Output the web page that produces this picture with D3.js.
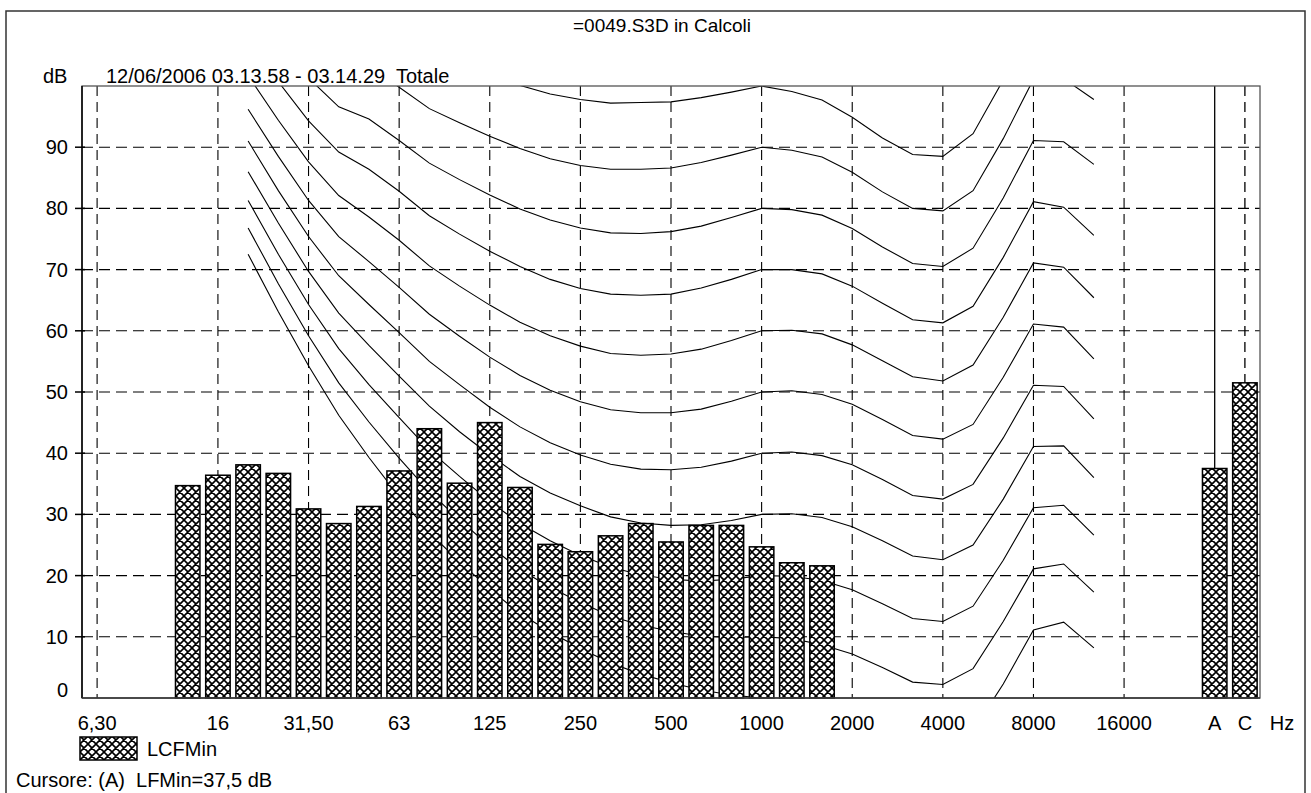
<!DOCTYPE html>
<html><head><meta charset="utf-8">
<script src="https://cdn.jsdelivr.net/npm/d3@7"></script>
<style>
body{margin:0;background:#fff}
svg{display:block}
text{font-family:"Liberation Sans",Arial,Helvetica,sans-serif;fill:#000}
</style>
</head><body>
<svg id="c" width="1311" height="793"></svg>
<script>
// ---------- data ----------
const bands = ["6.3","8","10","12.5","16","20","25","31.5","40","50","63","80","100","125","160","200","250","315","400","500","630","800","1000","1250","1600","2000","2500","3150","4000","5000","6300","8000","10000","12500","16000","20000","25000","A","C"];
const tickBands = ["6.3","16","31.5","63","125","250","500","1000","2000","4000","8000","16000","A","C"];
const tickLabels = ["6,30","16","31,50","63","125","250","500","1000","2000","4000","8000","16000","A","C"];
const gridBands = ["6.3","16","31.5","63","125","250","500","1000","2000","4000","8000","16000"];
const yTickValues = [10,20,30,40,50,60,70,80,90];

const barBands = ["12.5","16","20","25","31.5","40","50","63","80","100","125","160","200","250","315","400","500","630","800","1000","1250","1600","A","C"];
const barValues = [34.7,36.4,38.1,36.7,30.9,28.5,31.3,37.1,44.0,35.1,45.0,34.4,25.1,23.9,26.5,28.5,25.5,28.2,28.2,24.7,22.1,21.6,37.5,51.5];

const contourBands = ["20","25","31.5","40","50","63","80","100","125","160","200","250","315","400","500","630","800","1000","1250","1600","2000","2500","3150","4000","5000","6300","8000","10000","12500"];
const phon0   = [72.5,63.1,54.3,46.2,39.3,32.9,27.0,22.3,17.8,13.8,10.8,8.1,5.7,3.9,2.5,1.3,0.5,0.0,-0.7,-1.9,-3.5,-5.7,-8.1,-8.3,-5.4,2.3,11.1,12.4,8.2];
const phon10  = [76.8,67.7,59.2,51.5,45.1,39.2,33.7,29.1,24.8,21.0,18.1,15.6,13.4,11.9,10.9,10.1,9.9,10.0,9.7,8.7,7.2,5.0,2.6,2.2,4.8,12.5,21.1,21.9,17.3];
const phon20  = [81.3,72.5,64.3,57.1,51.2,45.8,40.5,36.2,32.1,28.5,25.7,23.3,21.4,20.1,19.4,19.1,19.4,20.0,19.9,19.2,17.7,15.4,13.0,12.5,15.0,22.5,31.1,31.5,26.6];
const phon30  = [86.0,77.6,69.7,62.9,57.6,52.6,47.7,43.5,39.7,36.2,33.5,31.4,29.6,28.6,28.2,28.3,29.0,30.0,30.1,29.5,28.0,25.7,23.2,22.6,25.0,32.5,41.1,41.2,36.0];
const phon40  = [91.0,82.9,75.4,69.0,64.3,59.7,55.0,51.2,47.5,44.3,41.7,39.7,38.2,37.4,37.3,37.7,38.7,40.0,40.2,39.6,38.1,35.7,33.1,32.5,34.9,42.5,51.1,50.9,45.6];
const phon50  = [96.2,88.5,81.3,75.4,71.3,67.1,62.7,59.1,55.7,52.7,50.3,48.4,47.1,46.6,46.6,47.2,48.5,50.0,50.2,49.6,48.0,45.5,42.9,42.3,44.7,52.4,61.1,60.6,55.4];
const phon60  = [101.7,94.4,87.6,82.1,78.6,74.8,70.6,67.3,64.2,61.4,59.2,57.5,56.3,56.0,56.2,57.0,58.4,60.0,60.1,59.5,57.7,55.1,52.5,51.8,54.4,62.2,71.1,70.4,65.4];
const phon70  = [107.6,100.7,94.3,89.2,86.4,82.8,78.8,75.8,73.0,70.5,68.4,66.9,66.0,65.8,66.0,67.0,68.4,70.0,70.0,69.3,67.3,64.5,61.8,61.3,64.0,72.0,81.1,80.2,75.6];
const phon80  = [113.7,107.3,101.3,96.6,94.6,91.1,87.4,84.7,82.2,79.9,78.1,76.8,76.0,75.9,76.2,77.1,78.5,80.0,79.8,78.9,76.7,73.7,71.0,70.5,73.5,81.7,91.1,90.9,87.2];
const phon90  = [120.3,114.4,108.7,104.4,103.2,99.8,96.3,94.0,91.8,89.8,88.1,87.0,86.4,86.4,86.6,87.5,88.7,90.0,89.5,88.4,85.9,82.7,80.0,79.6,82.9,91.4,101.1,101.2,97.8];
const phon100 = [127.2,121.9,116.6,112.6,112.3,108.9,105.6,103.6,101.8,100.1,98.7,97.8,97.2,97.3,97.4,98.1,99.0,100.0,99.1,97.7,94.9,91.5,88.8,88.5,92.2,101.0,111.1,111.6,108.8];
const contours = [phon0,phon10,phon20,phon30,phon40,phon50,phon60,phon70,phon80,phon90,phon100];

// ---------- layout ----------
const svg = d3.select("#c");
const L = 82, R = 1260, T = 86, B = 698;
const FS = 20;
const x = d3.scaleBand().domain(bands).range([L, R]).paddingInner(0.19).paddingOuter(0.095);
const cx = b => x(b) + x.bandwidth() / 2;
const y = d3.scaleLinear().domain([0, 100]).range([B, T]);

svg.append("rect").attr("width",1311).attr("height",793).attr("fill","#fff");

// hatch pattern
const defs = svg.append("defs");
const pat = defs.append("pattern").attr("id","hatch").attr("patternUnits","userSpaceOnUse")
  .attr("width",8).attr("height",8);
pat.append("rect").attr("width",8).attr("height",8).attr("fill","#fff");
pat.append("path").attr("d","M0,0L8,8M8,0L0,8M-1,7L1,9M7,-1L9,1M-1,1L1,-1M7,9L9,7")
  .attr("stroke","#000").attr("stroke-width",1.6);
defs.append("clipPath").attr("id","plotclip").append("rect")
  .attr("x",L).attr("y",T).attr("width",R-L).attr("height",B-T);

// outer frame
svg.append("path").attr("d",`M6,800V11H1305V800`).attr("fill","none").attr("stroke","#333").attr("stroke-width",1.5);

// title & header
svg.append("text").attr("x",662).attr("y",32).attr("text-anchor","middle").attr("font-size",19).text("=0049.S3D in Calcoli");
svg.append("text").attr("x",43).attr("y",83).attr("font-size",FS).text("dB");
svg.append("text").attr("x",106).attr("y",83).attr("font-size",FS).attr("xml:space","preserve").text("12/06/2006 03.13.58 - 03.14.29  Totale");

// horizontal grid
svg.append("g").selectAll("line").data(yTickValues).join("line")
  .attr("x1",L).attr("x2",R).attr("y1",d=>y(d)).attr("y2",d=>y(d))
  .attr("stroke","#000").attr("stroke-width",1.1).attr("stroke-dasharray","11,6");
// vertical grid
svg.append("g").selectAll("line").data(gridBands).join("line")
  .attr("x1",d=>cx(d)).attr("x2",d=>cx(d)).attr("y1",T).attr("y2",B)
  .attr("stroke","#000").attr("stroke-width",1.1).attr("stroke-dasharray","10,6");
// C dashed line and A cursor line
const barIdx = b => barBands.indexOf(b);
svg.append("line").attr("x1",cx("C")).attr("x2",cx("C")).attr("y1",T).attr("y2",y(barValues[barIdx("C")]))
  .attr("stroke","#000").attr("stroke-width",1.3).attr("stroke-dasharray","10,6");
svg.append("line").attr("x1",cx("A")).attr("x2",cx("A")).attr("y1",T).attr("y2",y(barValues[barIdx("A")]))
  .attr("stroke","#000").attr("stroke-width",1.3);

// contours
const line = d3.line().x((d,i)=>cx(contourBands[i])).y(d=>y(d));
svg.append("g").attr("clip-path","url(#plotclip)").selectAll("path").data(contours).join("path")
  .attr("d",line).attr("fill","none").attr("stroke","#000").attr("stroke-width",1.1);

// bars
svg.append("g").selectAll("rect").data(barBands).join("rect")
  .attr("x",d=>x(d)).attr("width",x.bandwidth())
  .attr("y",(d,i)=>y(barValues[i])).attr("height",(d,i)=>B-y(barValues[i]))
  .attr("fill","url(#hatch)").attr("stroke","#000").attr("stroke-width",1.5);

// plot frame
svg.append("rect").attr("x",L).attr("y",T).attr("width",R-L).attr("height",B-T)
  .attr("fill","none").attr("stroke","#555").attr("stroke-width",1.3);
svg.append("line").attr("x1",L).attr("x2",L).attr("y1",T).attr("y2",B).attr("stroke","#000").attr("stroke-width",1.5);
svg.append("line").attr("x1",L).attr("x2",R).attr("y1",B).attr("y2",B).attr("stroke","#333").attr("stroke-width",1.5);

// y ticks & labels
svg.append("g").selectAll("line").data(yTickValues).join("line")
  .attr("x1",L-7).attr("x2",L+3).attr("y1",d=>y(d)).attr("y2",d=>y(d)).attr("stroke","#000").attr("stroke-width",1.5);
svg.append("g").selectAll("text").data(yTickValues).join("text")
  .attr("x",68).attr("y",d=>y(d)).attr("dy","0.35em").attr("text-anchor","end").attr("font-size",FS).text(d=>d);
svg.append("text").attr("x",68).attr("y",y(0)-8).attr("dy","0.35em").attr("text-anchor","end").attr("font-size",FS).text("0");

// x labels
svg.append("g").selectAll("text").data(tickBands).join("text")
  .attr("x",d=>cx(d)).attr("y",730).attr("text-anchor","middle").attr("font-size",FS)
  .text((d,i)=>tickLabels[i]);
svg.append("text").attr("x",1282).attr("y",730).attr("text-anchor","middle").attr("font-size",FS).text("Hz");

// legend
svg.append("rect").attr("x",80).attr("y",737).attr("width",57).attr("height",23)
  .attr("fill","url(#hatch)").attr("stroke","#000").attr("stroke-width",1.5);
svg.append("text").attr("x",147).attr("y",756).attr("font-size",FS).text("LCFMin");
svg.append("text").attr("x",16).attr("y",787).attr("font-size",FS).attr("xml:space","preserve").text("Cursore: (A)  LFMin=37,5 dB");
</script>
</body></html>
